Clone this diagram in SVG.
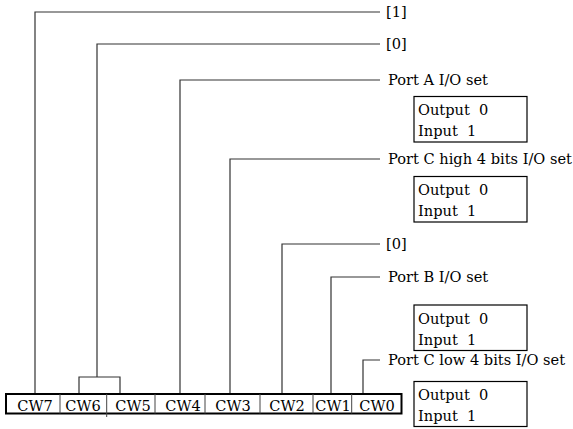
<svg xmlns="http://www.w3.org/2000/svg" width="573" height="429" viewBox="0 0 573 429">
<style>
text{font-family:"DejaVu Serif","Liberation Serif",serif;font-size:14.6px;fill:#000;white-space:pre}
.ln{stroke:#333;stroke-width:1.2;fill:none}
.box{stroke:#000;stroke-width:1.2;fill:#fff}
.reg{stroke:#000;stroke-width:2;fill:#fff}
.div{stroke:#444;stroke-width:1;fill:none}
.c{text-anchor:middle}
</style>
<rect width="573" height="429" fill="#fff"/>
<g id="connectors">
<polyline class="ln" points="35,394 35,12 380,12"/>
<polyline class="ln" points="97,377 97,44 380,44"/>
<polyline class="ln" points="79,394 79,377 120,377 120,394"/>
<polyline class="ln" points="180,394 180,80 380,80"/>
<polyline class="ln" points="230,394 230,159 380,159"/>
<polyline class="ln" points="282,394 282,244 380,244"/>
<polyline class="ln" points="331,394 331,277 380,277"/>
<polyline class="ln" points="363,394 363,360 380,360"/>
</g>
<g id="register">
<rect class="reg" x="6" y="394" width="395.5" height="19.5"/>
<line class="div" x1="60" y1="394" x2="60" y2="413.5"/>
<line class="div" x1="106.7" y1="394" x2="106.7" y2="417"/>
<line class="div" x1="155" y1="394" x2="155" y2="413.5"/>
<line class="div" x1="205" y1="394" x2="205" y2="413.5"/>
<line class="div" x1="260" y1="394" x2="260" y2="413.5"/>
<line class="div" x1="313" y1="394" x2="313" y2="413.5"/>
<line class="div" x1="351.7" y1="394" x2="351.7" y2="413.5"/>
<text class="c" x="35" y="410.5">CW7</text>
<text class="c" x="83" y="410.5">CW6</text>
<text class="c" x="133" y="410.5">CW5</text>
<text class="c" x="183" y="410.5">CW4</text>
<text class="c" x="233" y="410.5">CW3</text>
<text class="c" x="287" y="410.5">CW2</text>
<text class="c" x="333" y="410.5">CW1</text>
<text class="c" x="377" y="410.5">CW0</text>
</g>
<g id="bit7"><text x="386" y="17">[1]</text></g>
<g id="bit6"><text x="386" y="49">[0]</text></g>
<g id="portA">
<text x="388" y="85">Port A I/O set</text>
<rect class="box" x="414" y="96.5" width="113" height="45.5"/>
<text x="418" y="115" xml:space="preserve">Output  0</text>
<text x="418" y="136" xml:space="preserve">Input  1</text>
</g>
<g id="portCH">
<text x="388" y="164">Port C high 4 bits I/O set</text>
<rect class="box" x="414" y="176.5" width="113" height="45.5"/>
<text x="418" y="195" xml:space="preserve">Output  0</text>
<text x="418" y="216" xml:space="preserve">Input  1</text>
</g>
<g id="bit2"><text x="386" y="249">[0]</text></g>
<g id="portB">
<text x="388" y="282">Port B I/O set</text>
<rect class="box" x="414" y="305" width="113" height="45.5"/>
<text x="418" y="323.5" xml:space="preserve">Output  0</text>
<text x="418" y="344.5" xml:space="preserve">Input  1</text>
</g>
<g id="portCL">
<text x="388" y="365">Port C low 4 bits I/O set</text>
<rect class="box" x="414" y="381.5" width="113" height="45"/>
<text x="418" y="400" xml:space="preserve">Output  0</text>
<text x="418" y="421" xml:space="preserve">Input  1</text>
</g>
</svg>
